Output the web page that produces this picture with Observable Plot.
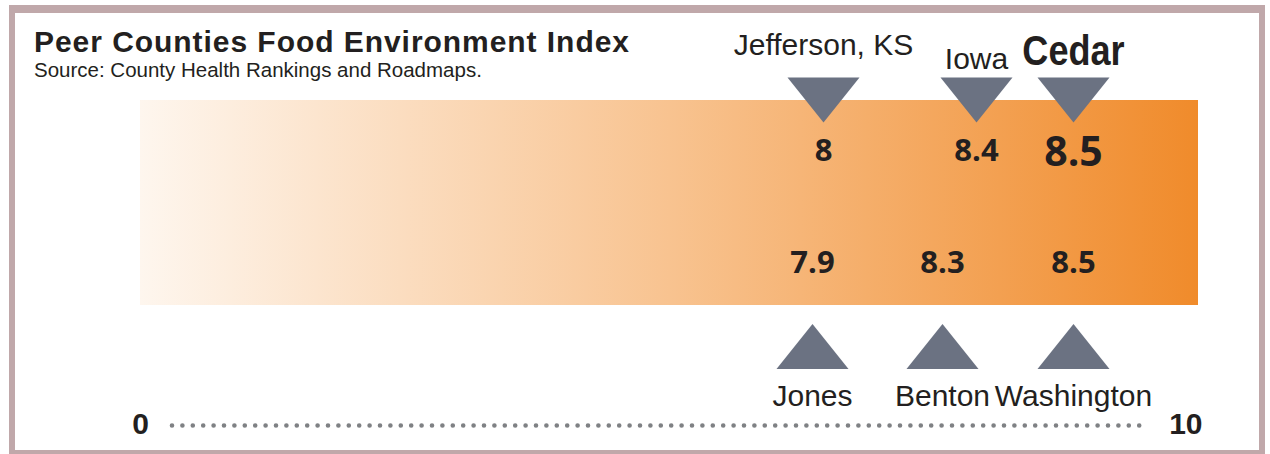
<!DOCTYPE html>
<html>
<head>
<meta charset="utf-8">
<script src="https://cdn.jsdelivr.net/npm/d3@7"></script>
<script src="https://cdn.jsdelivr.net/npm/@observablehq/plot@0.6"></script>
<style>
  html, body { margin: 0; padding: 0; background: #fff; }
  #wrap { position: relative; width: 1270px; height: 454px; overflow: hidden; color: #231f20; }
  #chart { position: absolute; left: 0; top: 0; }
  #frame { position: absolute; left: 9px; top: 5px; width: 1256px; height: 449px; box-sizing: border-box;
           border-style: solid; border-color: #c0a8aa; border-width: 8px 6px 4px 6px; pointer-events: none; }
  #title { position: absolute; left: 34px; top: 27px; margin: 0; font: bold 30px/30px "Liberation Sans", Arial, sans-serif; letter-spacing: 0.95px; color: #231f20; white-space: nowrap; }
  #subtitle { position: absolute; left: 34px; top: 60px; margin: 0; font: 20.5px/20.5px "Liberation Sans", Arial, sans-serif; color: #231f20; white-space: nowrap; }
</style>
</head>
<body>
<div id="wrap">
  <div id="chart"></div>
  <div id="frame"></div>
  <div id="title">Peer Counties Food Environment Index</div>
  <div id="subtitle">Source: County Health Rankings and Roadmaps.</div>
</div>
<script>
// ---- data ----
const topNames = ["Jefferson, KS", "Iowa", "Cedar"];
const topValues = [8, 8.4, 8.5];
const bottomNames = ["Jones", "Benton", "Washington"];
const bottomValues = [7.9, 8.3, 8.5];
const scaleEnds = [0, 10];
const highlight = "Cedar";

// ---- layout (pixels) ----
const xRangePx = [140, 812, 823, 942, 976, 1073, 1198]; // piecewise positions for the sorted knots
const barTop = 100, barBottom = 305;
const topTriY = 99.5, bottomTriY = 346, triR = 36;
const topNameBaselines = [54, 68, 64];
const topValueBaseline = 160, topValueBaselineHi = 165;
const bottomValueBaseline = 272, bottomNameBaseline = 405;
const axisBaseline = 433, dotsY = 425;
const ink = "#231f20", triColor = "#6b7282";

const topRows = topNames.map((name, i) => ({name, value: topValues[i], i}));
const bottomRows = bottomNames.map((name, i) => ({name, value: bottomValues[i], i}));
const knots = [scaleEnds[0], ...Array.from(new Set([...topValues, ...bottomValues])).sort((a, b) => a - b), scaleEnds[1]];
const fmt = v => String(v);

const downTri = {draw(ctx, size) { const r = Math.sqrt(size / Math.PI); ctx.moveTo(-r, -0.625 * r); ctx.lineTo(r, -0.625 * r); ctx.lineTo(0, 0.625 * r); ctx.closePath(); }};
const upTri = {draw(ctx, size) { const r = Math.sqrt(size / Math.PI); ctx.moveTo(-r, 0.625 * r); ctx.lineTo(r, 0.625 * r); ctx.lineTo(0, -0.625 * r); ctx.closePath(); }};

const plot = Plot.plot({
  width: 1270,
  height: 454,
  margin: 0,
  style: {background: "transparent"},
  x: {type: "linear", domain: knots, range: xRangePx, axis: null},
  y: {type: "identity", axis: null},
  marks: [
    Plot.rect([{x1: scaleEnds[0], x2: scaleEnds[1]}], {x1: "x1", x2: "x2", y1: barTop, y2: barBottom, fill: "url(#feiGrad)"}),
    Plot.dot(topRows, {x: "value", y: topTriY, symbol: downTri, r: triR, fill: triColor, stroke: "none"}),
    Plot.dot(bottomRows, {x: "value", y: bottomTriY, symbol: upTri, r: triR, fill: triColor, stroke: "none"}),
    Plot.text(topRows, {x: "value", y: d => d.name === highlight ? topValueBaselineHi : topValueBaseline, text: d => fmt(d.value),
      fontSize: d => d.name === highlight ? 41 : 31, fontWeight: "bold", fontFamily: "Open Sans", lineAnchor: "bottom", fill: ink}),
    Plot.text(bottomRows, {x: "value", y: bottomValueBaseline, text: d => fmt(d.value),
      fontSize: 31, fontWeight: "bold", fontFamily: "Open Sans", lineAnchor: "bottom", fill: ink}),
    Plot.text(topRows.filter(d => d.name !== highlight), {x: "value", y: d => topNameBaselines[d.i], text: "name",
      fontSize: 30, fontFamily: "Liberation Sans", lineAnchor: "bottom", fill: ink}),
    Plot.text(topRows.filter(d => d.name === highlight), {x: "value", y: d => topNameBaselines[d.i], text: "name",
      fontSize: 43, fontWeight: "bold", fontFamily: "Liberation Sans", lineAnchor: "bottom", fill: ink}),
    Plot.text(bottomRows, {x: "value", y: bottomNameBaseline, text: "name",
      fontSize: 30, fontFamily: "Liberation Sans", lineAnchor: "bottom", fill: ink}),
    Plot.ruleY([dotsY], {x1: scaleEnds[0], x2: scaleEnds[1], insetLeft: 32, insetRight: 51,
      stroke: "#7f8184", strokeWidth: 4.6, strokeDasharray: "0 10.4", strokeLinecap: "round"}),
    Plot.text([scaleEnds[0]], {x: d => d, y: axisBaseline, text: fmt, textAnchor: "middle",
      fontSize: 30, fontWeight: "bold", fontFamily: "Liberation Sans", lineAnchor: "bottom", fill: ink}),
    Plot.text([scaleEnds[1]], {x: d => d, y: axisBaseline, text: fmt, textAnchor: "end", dx: 4,
      fontSize: 30, fontWeight: "bold", fontFamily: "Liberation Sans", lineAnchor: "bottom", fill: ink})
  ]
});

const defs = document.createElementNS("http://www.w3.org/2000/svg", "defs");
defs.innerHTML = '<linearGradient id="feiGrad" x1="0" x2="1" y1="0" y2="0">' +
  '<stop offset="0" stop-color="#fef6ee"/>' +
  '<stop offset="0.5" stop-color="#f8c390"/>' +
  '<stop offset="1" stop-color="#f08b2b"/>' +
  '</linearGradient>';
plot.insertBefore(defs, plot.firstChild);

// condensed look for the highlighted county name
plot.querySelectorAll("text").forEach(t => {
  if (t.textContent === highlight) {
    const tr = t.getAttribute("transform");
    if (tr) {
      t.setAttribute("transform", tr + " scale(0.84,1)");
    } else {
      const x = t.getAttribute("x") || 0, y = t.getAttribute("y") || 0;
      t.removeAttribute("x"); t.removeAttribute("y");
      t.setAttribute("transform", `translate(${x},${y}) scale(0.84,1)`);
    }
  }
});
document.getElementById("chart").appendChild(plot);
</script>
</body>
</html>
